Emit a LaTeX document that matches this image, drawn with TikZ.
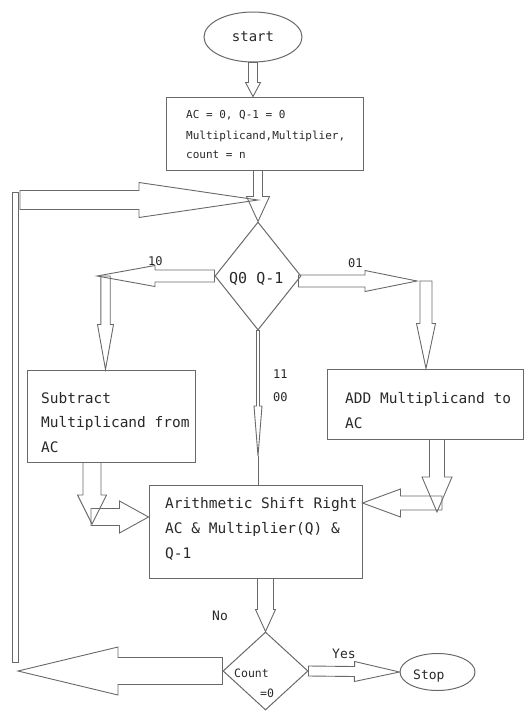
\documentclass[tikz,border=0pt]{standalone}
\usepackage{fontspec}
\newfontfamily\mono{DejaVu Sans Mono}
\usetikzlibrary{calc,shapes.geometric}
\definecolor{lin}{RGB}{105,105,105}
\definecolor{txt}{RGB}{40,40,40}
\newcommand{\barrow}[5]{%
  \coordinate (baA) at (#1);
  \coordinate (baB) at (#2);
  \coordinate (baH) at ($(baB)!#5!(baA)$);
  \draw[blk] ($(baA)!#3!90:(baB)$) -- ($(baH)!#3!90:(baB)$) -- ($(baH)!#4!90:(baB)$) -- (baB)
    -- ($(baH)!#4!-90:(baB)$) -- ($(baH)!#3!-90:(baB)$) -- ($(baA)!#3!-90:(baB)$) -- cycle;}
\tikzset{
  blk/.style={draw=lin, line width=0.9pt, line join=miter},
  shp/.style={draw=lin, line width=1pt, inner sep=0pt},
  lbl/.style={text=txt, inner sep=0pt, anchor=base west},
}
\begin{document}
\begin{tikzpicture}[x=1pt,y=-1pt]
\useasboundingbox (0,0) rectangle (527,715);
% shapes
\node[shp, ellipse, minimum width=98pt, minimum height=50pt, text=txt, font=\mono\fontsize{14}{16}\selectfont] (start) at (253,37) {start};
\node[shp, rectangle, minimum width=197pt, minimum height=73pt] (init) at (264.5,133.5) {};
\node[shp, diamond, minimum width=86pt, minimum height=108pt] (dec) at (258,276) {};
\node[shp, rectangle, minimum width=168pt, minimum height=92pt] (sub) at (111,416) {};
\node[shp, rectangle, minimum width=196pt, minimum height=70pt] (add) at (425,404) {};
\node[shp, rectangle, minimum width=213pt, minimum height=93pt] (asr) at (255.5,531.5) {};
\node[shp, diamond, minimum width=85pt, minimum height=78pt] (cnt) at (265.5,671) {};
\node[shp, ellipse, minimum width=75pt, minimum height=37pt] (stop) at (437.5,672) {};
% texts
\begin{scope}[font=\mono\fontsize{11}{13}\selectfont]
\node[lbl] (i1) at (186,118) {AC = 0, Q-1 = 0};
\node[lbl] (i2) at (186,139) {Multiplicand,Multiplier,};
\node[lbl] (i3) at (186,158) {count = n};
\end{scope}
\node[lbl, font=\mono\fontsize{15}{17}\selectfont] (dq) at (229,283) {Q0 Q-1};
\begin{scope}[font=\mono\fontsize{14.5}{17}\selectfont]
\node[lbl] (s1) at (41,403) {Subtract};
\node[lbl] (s2) at (41,427) {Multiplicand from};
\node[lbl] (s3) at (41,452) {AC};
\node[lbl] (a1) at (345,403) {ADD Multiplicand to};
\node[lbl] (a2) at (345,428) {AC};
\node[lbl] (r1) at (165,508) {Arithmetic Shift Right};
\node[lbl] (r2) at (165,533) {AC \& Multiplier(Q) \&};
\node[lbl] (r3) at (165,558) {Q-1};
\end{scope}
\begin{scope}[font=\mono\fontsize{12}{14}\selectfont]
\node[lbl] (l10) at (148,265) {10};
\node[lbl] (l01) at (348,267) {01};
\node[lbl] (l11) at (273,378) {11};
\node[lbl] (l00) at (273,401) {00};
\end{scope}
\begin{scope}[font=\mono\fontsize{13}{15}\selectfont]
\node[lbl] (lyes) at (332,658) {Yes};
\node[lbl] (lno) at (212,620) {No};
\node[lbl] (tstop) at (413,679) {Stop};
\end{scope}
\begin{scope}[font=\mono\fontsize{11.5}{13}\selectfont]
\node[lbl] (c1) at (234,677) {Count};
\node[lbl] (c2) at (260,697) {=0};
\end{scope}
% junction coordinates
\coordinate (loopin) at (20,200);
\coordinate (jl) at (97,276);
\coordinate (jl2) at (105.5,276);
\coordinate (jr) at (417,281);
\coordinate (jr2) at (426,281);
\coordinate (midtip) at (258,456);
\coordinate (sdown) at (92,524);
\coordinate (sr) at (91,517);
\coordinate (adown) at (437,512);
\coordinate (al) at (442,503);
\coordinate (lb) at (18,667);
\coordinate (vtop) at (12,192);
\coordinate (vbot) at (18,662);
% connectors
\barrow{start.south}{start.south |- init.north}{4.5pt}{7.5pt}{14pt}
\barrow{dec.north |- init.south}{dec.north}{4.5pt}{11.5pt}{25pt}
\barrow{loopin}{dec.north |- loopin}{9.5pt}{17.5pt}{119pt}
\draw[blk] (vtop) rectangle (vbot);
\barrow{cnt.west}{lb |- cnt.west}{13.5pt}{24pt}{100pt}
\barrow{dec.west}{jl}{6pt}{10.5pt}{58pt}
\barrow{jl2}{jl2 |- sub.north}{4.7pt}{8pt}{45pt}
\barrow{$(dec.east)+(-3,5)$}{jr}{6pt}{10.5pt}{52pt}
\barrow{jr2}{jr2 |- add.north}{6pt}{9.5pt}{45pt}
\barrow{dec.south}{midtip}{1.5pt}{4pt}{50pt}
\draw[blk] (midtip) -- (dec.south |- asr.north);
\barrow{sdown |- sub.south}{sdown}{9pt}{14.5pt}{29pt}
\barrow{sr}{asr.west |- sr}{8.5pt}{16pt}{29pt}
\barrow{adown |- add.south}{adown}{7.5pt}{15pt}{35pt}
\barrow{al}{asr.east |- al}{7pt}{14pt}{38pt}
\barrow{cnt.north |- asr.south}{cnt.north}{8pt}{10pt}{22pt}
\barrow{cnt.east}{stop.west}{5pt}{10pt}{45pt}
\end{tikzpicture}
\end{document}
